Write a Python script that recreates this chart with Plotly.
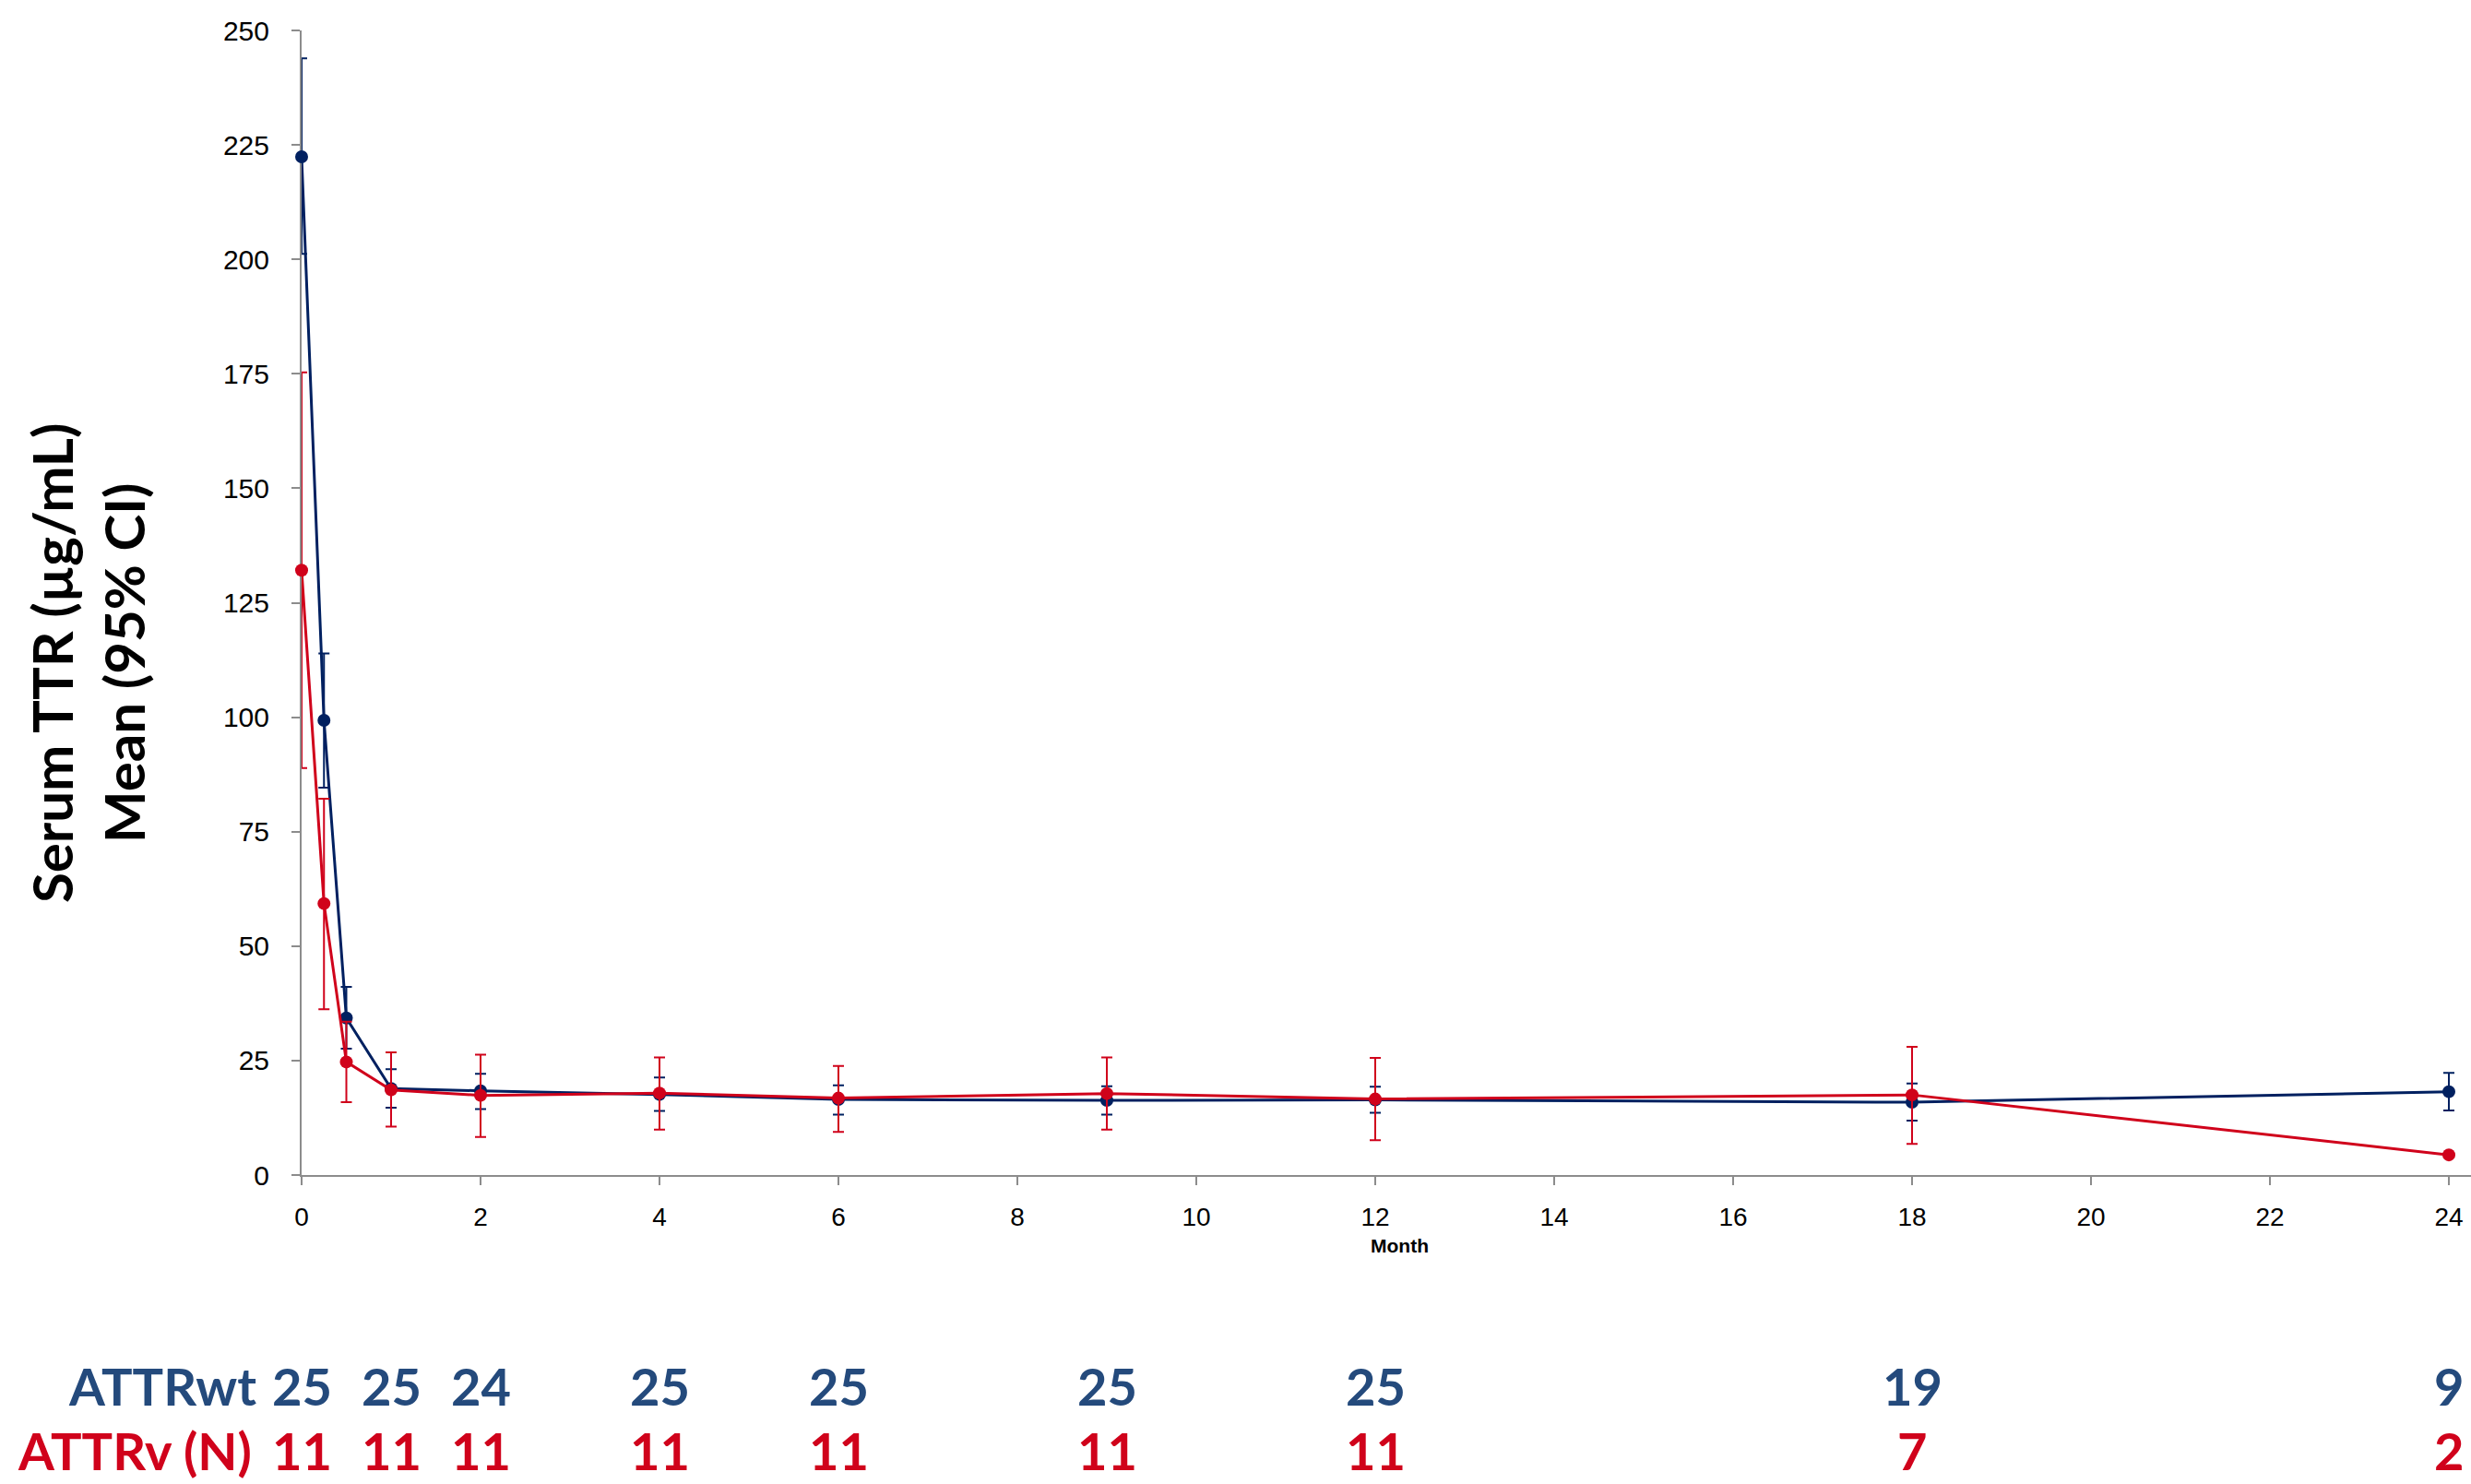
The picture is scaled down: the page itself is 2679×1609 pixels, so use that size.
import plotly.graph_objects as go

# Serum TTR over time, mean with 95% CI, by cohort
months = [0, 0.25, 0.5, 1, 2, 4, 6, 9, 12, 18, 24]

wt_mean = [222.4, 99.3, 34.3, 18.9, 18.4, 17.6, 16.5, 16.3, 16.4, 15.9, 18.2]
wt_lo = [201.2, 84.6, 27.6, 14.7, 14.4, 14.0, 13.2, 13.2, 13.6, 11.9, 14.1]
wt_hi = [243.9, 113.9, 41.1, 23.1, 22.1, 21.3, 19.6, 19.4, 19.3, 20.0, 22.3]

v_mean = [132.1, 59.3, 24.7, 18.6, 17.4, 17.9, 16.8, 17.8, 16.6, 17.5, 4.4]
v_lo = [88.9, 36.2, 15.9, 10.6, 8.3, 9.9, 9.4, 9.9, 7.6, 6.8, None]
v_hi = [175.3, 82.2, 33.5, 26.8, 26.3, 25.7, 23.8, 25.7, 25.6, 28.0, None]

# number of patients at each visit
n_months = [0, 1, 2, 4, 6, 9, 12, 18, 24]
n_wt = [25, 25, 24, 25, 25, 25, 25, 19, 9]
n_v = [11, 11, 11, 11, 11, 11, 11, 7, 2]

x_ticks = list(range(0, 25, 2))
y_ticks = list(range(0, 251, 25))

NAVY = "#002060"
RED = "#D0021B"
LABEL_BLUE = "#244A7C"
AXIS_GREY = "#8C8C8C"

W, H = 2679, 1609
M_L, M_R, M_T, M_B = 327, 0, 33, 335
PLOT_W = W - M_L - M_R
PLOT_H = H - M_T - M_B
X_MAX = 24 * PLOT_W / (2655 - M_L)


def px_to_paper_x(px):
    return (px - M_L) / PLOT_W


def px_to_paper_y(py):
    return (H - M_B - py) / PLOT_H


def err_plus(mean, hi):
    return [h - m for m, h in zip(mean, hi) if h is not None]


def err_minus(mean, lo):
    return [m - l for m, l in zip(mean, lo) if l is not None]


fig = go.Figure()

fig.add_trace(go.Scatter(
    x=months, y=wt_mean, mode="lines+markers", name="ATTRwt",
    line=dict(color=NAVY, width=3),
    marker=dict(color=NAVY, size=14),
    error_y=dict(type="data", symmetric=False,
                 array=err_plus(wt_mean, wt_hi),
                 arrayminus=err_minus(wt_mean, wt_lo),
                 color=NAVY, thickness=2, width=6),
    cliponaxis=False,
))

fig.add_trace(go.Scatter(
    x=months, y=v_mean, mode="lines+markers", name="ATTRv",
    line=dict(color=RED, width=3),
    marker=dict(color=RED, size=14),
    error_y=dict(type="data", symmetric=False,
                 array=err_plus(v_mean, v_hi),
                 arrayminus=err_minus(v_mean, v_lo),
                 color=RED, thickness=2, width=6),
    cliponaxis=False,
))

annotations = []

# y-axis title
annotations.append(dict(
    xref="paper", yref="paper",
    x=px_to_paper_x(95), y=px_to_paper_y(719),
    text="Serum TTR (µg/mL)<br>Mean (95% CI)",
    textangle=-90, showarrow=False,
    xanchor="center", yanchor="middle", align="center",
    font=dict(family="Lato", size=60, color="#000000", weight="bold"),
))

# x-axis title
annotations.append(dict(
    xref="paper", yref="paper",
    x=px_to_paper_x(1517), y=px_to_paper_y(1350),
    text="Month", showarrow=False,
    xanchor="center", yanchor="middle",
    font=dict(family="Liberation Sans", size=21, color="#000000", weight="bold"),
))

row_wt_y = px_to_paper_y(1502)
row_v_y = px_to_paper_y(1572)
label_font = dict(family="Lato", size=56, weight="bold")

annotations.append(dict(
    xref="paper", yref="paper", x=px_to_paper_x(280), y=row_wt_y,
    text="ATTRwt", showarrow=False, xanchor="right", yanchor="middle",
    font=dict(label_font, color=LABEL_BLUE),
))
annotations.append(dict(
    xref="paper", yref="paper", x=px_to_paper_x(275), y=row_v_y,
    text="ATTRv (N)", showarrow=False, xanchor="right", yanchor="middle",
    font=dict(label_font, color=RED),
))

for m, a, b in zip(n_months, n_wt, n_v):
    annotations.append(dict(
        xref="x", yref="paper", x=m, y=row_wt_y, text=str(a),
        showarrow=False, xanchor="center", yanchor="middle",
        font=dict(label_font, color=LABEL_BLUE),
    ))
    annotations.append(dict(
        xref="x", yref="paper", x=m, y=row_v_y, text=str(b),
        showarrow=False, xanchor="center", yanchor="middle",
        font=dict(label_font, color=RED),
    ))

fig.update_layout(
    width=W, height=H,
    margin=dict(l=M_L, r=M_R, t=M_T, b=M_B, pad=0),
    paper_bgcolor="white", plot_bgcolor="white",
    showlegend=False,
    annotations=annotations,
    xaxis=dict(
        range=[0, X_MAX], tickvals=x_ticks, ticktext=[str(t) for t in x_ticks],
        showgrid=False, zeroline=False,
        showline=True, linecolor=AXIS_GREY, linewidth=2,
        ticks="outside", ticklen=9, tickwidth=2, tickcolor=AXIS_GREY,
        tickfont=dict(family="Liberation Sans", size=28, color="#000000"),
        ticklabelstandoff=10,
        layer="below traces",
    ),
    yaxis=dict(
        range=[0, 250], tickvals=y_ticks,
        showgrid=False, zeroline=False,
        showline=True, linecolor=AXIS_GREY, linewidth=2,
        ticks="outside", ticklen=9, tickwidth=2, tickcolor=AXIS_GREY,
        tickfont=dict(family="Liberation Sans", size=30, color="#000000"),
        ticklabelstandoff=18,
        layer="below traces",
    ),
)

fig.write_html("out.html")
